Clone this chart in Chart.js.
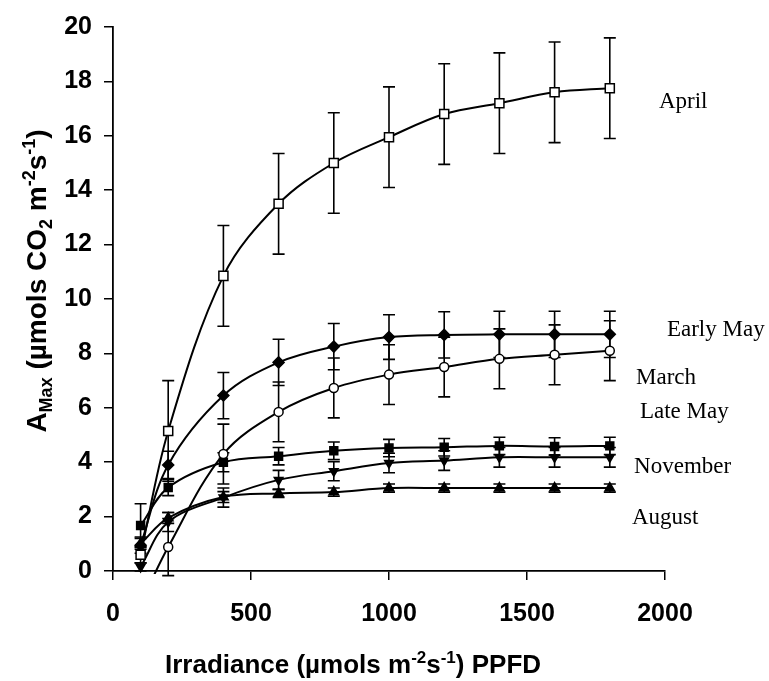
<!DOCTYPE html>
<html>
<head>
<meta charset="utf-8">
<script src="https://cdn.jsdelivr.net/npm/chart.js@4/dist/chart.umd.min.js"></script>
<style>
    html, body { margin: 0; padding: 0; background: #fff; }
    #wrap { width: 769px; height: 681px; }
</style>
</head>
<body>
<div id="wrap"><canvas id="amaxChart" width="769" height="681"></canvas></div>
<script>

/* =======================
   DADOS
======================= */

const irradiance = [100, 200, 400, 600, 800, 1000, 1200, 1400, 1600, 1800];

const april     = [0.6, 5.15, 10.85, 13.5, 15.0, 15.95, 16.8, 17.2, 17.6, 17.75];
const aprilErr  = [0.3, 1.85, 1.85, 1.85, 1.85, 1.85, 1.85, 1.85, 1.85, 1.85];

const earlyMay    = [0.95, 3.9, 6.45, 7.67, 8.25, 8.6, 8.68, 8.7, 8.7, 8.7];
const earlyMayErr = [0.3, 0.5, 0.85, 0.85, 0.85, 0.82, 0.85, 0.85, 0.85, 0.85];

const march    = [-1.2, 0.88, 4.3, 5.85, 6.73, 7.22, 7.5, 7.8, 7.95, 8.1];
const marchErr = [0, 1.05, 1.1, 1.1, 1.1, 1.1, 1.1, 1.1, 1.1, 1.1];

const lateMay    = [1.67, 3.07, 4.0, 4.22, 4.42, 4.52, 4.55, 4.6, 4.58, 4.6];
const lateMayErr = [0.8, 0.3, 0.35, 0.32, 0.32, 0.32, 0.32, 0.32, 0.32, 0.32];

const november    = [0.15, 1.8, 2.7, 3.35, 3.67, 3.97, 4.06, 4.18, 4.18, 4.18];
const novemberErr = [0.15, 0.35, 0.35, 0.35, 0.35, 0.36, 0.36, 0.36, 0.36, 0.36];

const august    = [1.0, 1.95, 2.72, 2.85, 2.9, 3.05, 3.05, 3.05, 3.05, 3.05];
const augustErr = [0.2, 0.2, 0.2, 0.15, 0.15, 0.15, 0.15, 0.15, 0.15, 0.15];

const seriesNames = ["April", "Early May", "March", "Late May", "November", "August"];

// posição dos rótulos (x e y em unidades dos eixos)
const labelX = [1978, 2007, 1895, 1909, 1888, 1880];
const labelY = [17.24, 8.87, 7.09, 5.85, 3.82, 1.96];

const xTicks = [0, 500, 1000, 1500, 2000];
const yTicks = [0, 2, 4, 6, 8, 10, 12, 14, 16, 18, 20];

/* =======================
   HELPERS
======================= */

function toPoints(values) {
    return irradiance.map((x, i) => ({ x, y: values[i] }));
}

function makeDataset(name, values, errors, style, filled, radius, rotation) {
    return {
        label: name,
        data: toPoints(values),
        errors,
        borderColor: "#000",
        borderWidth: 2,
        tension: 0.35,
        pointStyle: style,
        pointRotation: rotation || 0,
        pointRadius: radius,
        pointBorderWidth: 1.5,
        pointBorderColor: "#000",
        pointBackgroundColor: filled ? "#000" : "#fff",
        clip: { left: 8, top: 8, right: 8, bottom: 3 }
    };
}

function drawRich(ctx, parts, x, y, size) {
    const big = "bold " + size + "px 'Liberation Sans', Arial, sans-serif";
    const small = "bold " + Math.round(size * 0.65) + "px 'Liberation Sans', Arial, sans-serif";

    let total = 0;
    parts.forEach(p => {
        ctx.font = p.s ? small : big;
        total += ctx.measureText(p.t).width;
    });

    let cx = x - total / 2;
    parts.forEach(p => {
        ctx.font = p.s ? small : big;
        let dy = 0;
        if (p.s === "sub") dy = size * 0.23;
        if (p.s === "sup") dy = -size * 0.4;
        ctx.fillText(p.t, cx, y + dy);
        cx += ctx.measureText(p.t).width;
    });
}

/* =======================
   PLUGINS
======================= */

const errorBars = {
    id: "errorBars",
    beforeDatasetsDraw(chart) {
        const ctx = chart.ctx;
        const xs = chart.scales.x;
        const ys = chart.scales.y;

        ctx.save();
        ctx.strokeStyle = "#000";
        ctx.lineWidth = 1.6;

        chart.data.datasets.forEach(ds => {
            ds.data.forEach((p, i) => {
                const e = ds.errors[i];
                if (!e || p.y < 0) return;

                const px = xs.getPixelForValue(p.x);
                const top = ys.getPixelForValue(p.y + e);
                const bot = ys.getPixelForValue(p.y - e);

                ctx.beginPath();
                ctx.moveTo(px, top);
                ctx.lineTo(px, bot);
                ctx.moveTo(px - 6, top);
                ctx.lineTo(px + 6, top);
                ctx.moveTo(px - 6, bot);
                ctx.lineTo(px + 6, bot);
                ctx.stroke();
            });
        });

        ctx.restore();
    }
};

const textLayer = {
    id: "textLayer",
    afterDraw(chart) {
        const ctx = chart.ctx;
        const xs = chart.scales.x;
        const ys = chart.scales.y;

        ctx.save();
        ctx.fillStyle = "#000";

        // rótulos das séries
        ctx.font = "23px 'Liberation Serif', 'Times New Roman', serif";
        ctx.textAlign = "left";
        ctx.textBaseline = "middle";
        seriesNames.forEach((name, i) => {
            ctx.fillText(name, xs.getPixelForValue(labelX[i]), ys.getPixelForValue(labelY[i]));
        });

        // título do eixo x
        ctx.textBaseline = "alphabetic";
        drawRich(ctx, [
            { t: "Irradiance (µmols m" },
            { t: "-2", s: "sup" },
            { t: "s" },
            { t: "-1", s: "sup" },
            { t: ") PPFD" }
        ], 353, 673, 26);

        // título do eixo y
        ctx.translate(46, 281);
        ctx.rotate(-Math.PI / 2);
        drawRich(ctx, [
            { t: "A" },
            { t: "Max", s: "sub" },
            { t: " (µmols CO" },
            { t: "2", s: "sub" },
            { t: " m" },
            { t: "-2", s: "sup" },
            { t: "s" },
            { t: "-1", s: "sup" },
            { t: ")" }
        ], 0, 0, 28);

        ctx.restore();
    }
};

/* =======================
   GRÁFICO
======================= */

function loadChart() {

    const tickFont = { family: "'Liberation Sans', Arial, sans-serif", size: 25, weight: "bold" };

    new Chart(
        document.getElementById("amaxChart"),
        {
            type: "line",
            data: {
                datasets: [
                    makeDataset("April", april, aprilErr, "rect", false, 6.4),
                    makeDataset("Early May", earlyMay, earlyMayErr, "rectRot", true, 5.5),
                    makeDataset("March", march, marchErr, "circle", false, 4.5),
                    makeDataset("Late May", lateMay, lateMayErr, "rect", true, 5.6),
                    makeDataset("November", november, novemberErr, "triangle", true, 5, 180),
                    makeDataset("August", august, augustErr, "triangle", true, 5.5)
                ]
            },
            options: {
                responsive: false,
                animation: false,
                layout: { padding: { left: 0, right: 104, top: 21, bottom: 0 } },
                plugins: {
                    legend: { display: false },
                    tooltip: { enabled: false }
                },
                scales: {
                    x: {
                        type: "linear",
                        min: 0,
                        max: 2000,
                        afterBuildTicks: s => { s.ticks = xTicks.map(v => ({ value: v })); },
                        afterFit: s => { s.height = 110; },
                        grid: { display: true, drawOnChartArea: false, drawTicks: true, tickLength: 9, color: "#000", lineWidth: 1.5 },
                        border: { display: true, color: "#000", width: 1.8 },
                        ticks: { color: "#000", font: tickFont, padding: 19, maxRotation: 0, callback: v => String(v) }
                    },
                    y: {
                        min: 0,
                        max: 20,
                        afterBuildTicks: s => { s.ticks = yTicks.map(v => ({ value: v })); },
                        afterFit: s => { s.width = 113; },
                        grid: { display: true, drawOnChartArea: false, drawTicks: true, tickLength: 9, color: "#000", lineWidth: 1.5 },
                        border: { display: true, color: "#000", width: 1.8 },
                        ticks: { color: "#000", font: tickFont, padding: 12, callback: v => String(v) }
                    }
                }
            },
            plugins: [errorBars, textLayer]
        }
    );
}

document.addEventListener("DOMContentLoaded", () => {

    loadChart();

});
</script>
</body>
</html>
